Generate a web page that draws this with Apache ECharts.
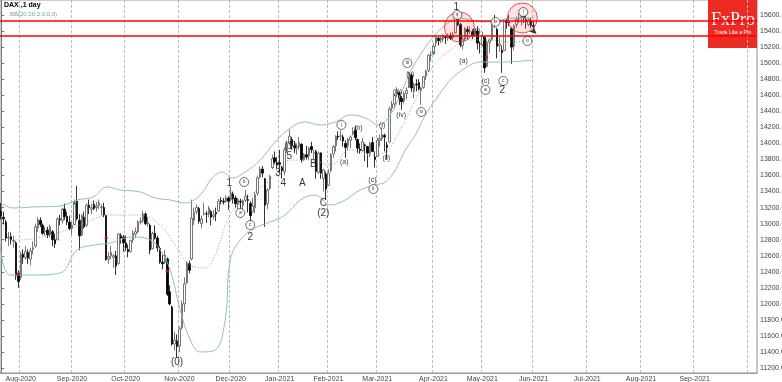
<!DOCTYPE html>
<html><head><meta charset="utf-8">
<script src="https://cdn.jsdelivr.net/npm/echarts@6/dist/echarts.min.js"></script>
<style>html,body{margin:0;padding:0;background:#fff}#c{width:782px;height:382px}</style>
</head><body><div id="c"></div>
<script>
// ---- categories: trading days ----
const startDate = '2020-07-22';
const categoryCount = 310;
const holidays = ['2020-12-24','2020-12-25','2020-12-31','2021-01-01','2021-04-02','2021-04-05'];
const monthNames = ['Jan','Feb','Mar','Apr','May','Jun','Jul','Aug','Sep','Oct','Nov','Dec'];
const hiddenMonthLabels = ['Oct-2021'];

// ---- OHLC (index 0 = 2020-07-22) ----
const opens = [13150,13080,13020,12820,12840,12780,12760,12380,
12330,12620,12580,12640,12560,12680,12720,12950,13040,12980,12900,12920,12860,12900,12800,12800,13060,13040,13180,13090,13020,
12940,12990,13280,13040,12860,13080,12980,13230,13180,13240,13200,13230,13200,13200,13100,12560,12600,12580,12600,12500,12850,12830,
12760,12680,12650,12800,12870,12900,13020,13040,13120,13000,12980,12690,12880,12820,12690,12520,12520,12560,12150,11960,11500,11540,
11480,11700,12000,12260,12500,12560,13040,13150,13190,13000,13120,13120,13120,13150,13090,13140,13160,13290,13280,13280,13320,
13300,13370,13320,13240,13280,13230,13290,13300,13250,13150,13200,13380,13580,13680,13560,13250,13440,13700,13820,13760,
13760,13700,13650,13920,14000,14050,13970,13950,13960,13990,13800,13860,13850,13960,13880,13900,13640,13880,13560,13620,
13480,13660,13870,13970,14090,14090,14080,14000,13970,14040,14120,14160,14050,13930,13910,13980,13960,13880,14010,13830,
13840,14040,14060,14100,13980,14020,14440,14490,14610,14630,14560,14530,14620,14700,14850,14650,14740,14760,14660,14700,14840,14910,15100,
15120,15250,15310,15290,15300,15330,15310,15340,15320,15380,15580,15480,15220,15300,15420,15400,15390,15350,15400,15240,
15230,15320,14960,15260,15300,15520,15420,15220,15160,15160,15520,15510,15430,15210,15480,15550,15570,15580,15540,15480,15530,
15470];
const highs = [13260,13150,13050,12900,12890,12850,12780,12420,
12650,12680,12720,12680,12700,12780,13000,13080,13080,13000,12960,12960,12990,12920,12880,13080,13110,13200,13250,13150,13100,
13020,13300,13470,13120,13120,13150,13250,13300,13250,13290,13270,13300,13240,13260,13110,12650,12720,12620,12660,12880,12880,12860,
12850,12740,12800,12920,12950,13040,13080,13160,13140,13080,13000,12900,12980,12850,12720,12610,12670,12580,12230,11980,11650,11620,
11720,12040,12330,12530,12540,13300,13200,13240,13210,13100,13260,13160,13220,13170,13170,13200,13310,13330,13320,13350,13340,
13460,13400,13350,13320,13310,13300,13420,13360,13280,13320,13390,13600,13710,13720,13570,13440,13610,13860,13900,13830,
13920,13720,13950,14030,14170,14080,14030,14000,14080,14000,13880,13970,13960,14020,13920,13920,13900,13890,13680,13650,
13680,13880,13980,14100,14150,14160,14110,14040,14070,14100,14200,14210,14060,14000,14070,14000,13970,14020,14080,13900,
14070,14110,14200,14120,14020,14460,14530,14620,14700,14650,14590,14650,14700,14890,14870,14760,14800,14800,14700,14840,14920,15110,15150,
15250,15340,15330,15340,15360,15350,15370,15380,15390,15590,15625,15500,15320,15450,15460,15460,15420,15420,15460,15270,
15390,15340,15280,15310,15520,15600,15440,15330,15220,15540,15560,15600,15450,15480,15580,15620,15630,15620,15600,15560,15560,
15520];
const lows = [13050,12990,12780,12720,12740,12700,12300,12200,
12300,12500,12550,12500,12480,12620,12700,12900,12960,12860,12850,12820,12830,12720,12700,12790,12980,13000,13050,12980,12920,
12860,12980,13040,12670,12840,12940,12960,13120,13120,13170,13150,13180,13100,13080,12540,12500,12560,12450,12360,12490,12750,12650,
12660,12580,12640,12760,12820,12880,12990,13010,12980,12960,12620,12680,12800,12650,12500,12430,12500,12100,11980,11480,11420,11330,
11400,11680,11900,12250,12380,12540,12980,13120,13000,12940,13100,13010,13080,12980,13050,13030,13150,13240,13240,13260,13170,
13280,13250,13200,13180,13180,13140,13270,13140,13020,13140,13130,13350,13560,13580,12960,13180,13420,13680,13740,13690,
13640,13560,13600,13880,13980,13920,13880,13860,13920,13760,13780,13800,13800,13880,13800,13560,13620,13560,13400,13300,
13470,13640,13820,13900,14040,14030,13960,13820,13920,13940,14100,14040,13880,13870,13900,13780,13700,13830,13890,13700,
13830,13960,14030,13900,13800,14010,14400,14430,14580,14480,14420,14500,14550,14690,14640,14560,14650,14660,14480,14680,14790,14890,15020,
15100,15200,15220,15250,15260,15240,15280,15290,15290,15370,15460,15200,15170,15280,15300,15360,15300,15330,15170,15120,
15210,14880,14950,15120,15280,15440,15060,15140,14880,15150,15430,15460,14990,15160,15440,15500,15470,15500,15430,15460,15440,
15440];
const closes = [13100,13060,12820,12830,12800,12790,12350,12280,
12620,12580,12650,12570,12660,12700,12960,13050,12990,12880,12910,12860,12960,12800,12750,13060,13050,13180,13090,13020,12940,
12980,13260,13060,12850,13100,12960,13230,13200,13200,13190,13220,13260,13210,13110,12550,12590,12640,12600,12470,12870,12820,12760,
12700,12650,12790,12880,12900,13020,13030,13120,13000,13010,12670,12880,12820,12700,12520,12500,12610,12120,12000,11500,11550,11470,
11690,12000,12250,12510,12420,13070,13140,13200,13030,13060,13130,13120,13190,13080,13110,13120,13280,13280,13270,13320,13280,
13380,13310,13250,13300,13270,13280,13340,13290,13100,13220,13360,13570,13680,13630,13230,13420,13590,13810,13770,13730,
13740,13660,13920,14000,14090,13970,13950,13960,14010,13800,13860,13830,13940,13920,13890,13650,13880,13630,13670,13430,
13630,13860,13960,14090,14080,14090,14030,13950,14050,14080,14150,14070,13940,13910,14020,13970,13880,14000,13900,13800,
14040,14060,14110,14080,13950,14430,14490,14600,14630,14560,14520,14620,14660,14850,14690,14730,14730,14680,14690,14830,14900,15100,15100,
15210,15320,15280,15310,15340,15320,15340,15310,15360,15580,15480,15230,15300,15430,15390,15400,15350,15400,15250,15240,
15330,14940,15260,15290,15510,15510,15210,15240,15130,15530,15510,15500,15200,15470,15550,15560,15580,15560,15520,15540,15470,
15460];

// ---- Bollinger band lines: [index, value] ----
const bbUpper = [[-0.5,13270],[4.8,13195],[13,13208],[24.1,13220],[31.1,13295],[37.6,13332],[43.4,13457],[48.7,13420],[56.9,13395],[63,13320],[69.2,13295],[75.3,13258],[81.5,13357],[86.4,13569],[90.5,13644],[94.6,13569],[99.9,13644],[106.1,13793],[112.2,14018],[118.4,14192],[124.5,14267],[130.6,14230],[136.8,14267],[142.9,14354],[149.1,14317],[154.4,14230],[159.3,14354],[163.4,14603],[167.5,14890],[171.6,15102],[176.5,15313],[181.9,15475],[187.2,15563],[192.1,15538],[198.3,15513],[204.4,15538],[210.6,15563],[218,15563]];
const bbMiddle = [[-0.5,12983],[7.7,12797],[20,12859],[32.3,12983],[44.6,13108],[56.9,13108],[65.1,12983],[71.2,12734],[77.4,12485],[83.5,12448],[87.6,12610],[93.8,13108],[102,13357],[110.2,13544],[118.4,13793],[126.5,13793],[134.7,13731],[142.9,13918],[151.1,13856],[157.3,13893],[163.4,14167],[169.6,14541],[175.7,14915],[184,15164],[192.1,15289],[200.3,15289],[208.5,15264],[218,15289]];
const bbLower = [[-0.5,12734],[3.6,12360],[11.8,12360],[24.1,12385],[31.1,12672],[38.4,12734],[44.6,12759],[54,12834],[61,12797],[65.1,12672],[69.2,12423],[73.3,11924],[77.4,11551],[81.5,11401],[87.6,11426],[91.7,11800],[93.8,12547],[97.9,12797],[104,12946],[110.2,13021],[116.3,13108],[122.5,13295],[128.6,13357],[134.7,13233],[140.9,13295],[147,13420],[153.2,13482],[157.3,13519],[161.4,13669],[165.5,13918],[169.6,14105],[173.7,14354],[177.8,14541],[184,14790],[190.1,14940],[196.2,15014],[204.4,15014],[218,15039]];

// ---- levels and annotations ----
const resistanceLevels = [15531, 15347];
const lastPrice = 15460.18;
const yTicks = [11200,11400,11600,11800,12000,12200,12400,12600,12800,13000,13200,13400,13600,13800,14000,14200,14400,14600,14800,15000,15200,15400,15600];
const plainLabels = [[72,11276,'(0)'],[93.4,13507,'1'],[102,12834,'2'],[113.4,13631,'3'],[115.5,13507,'4'],[118,13843,'5'],[118.4,13968,'(1)'],
  [123.3,13507,'A'],[127.8,13743,'B'],[131.9,13258,'C'],[131.9,13133,'(2)'],[186.4,15700,'1'],[205.2,14666,'2']];
const smallLabels = [[140.5,13768,'(a)'],[146.2,14192,'(b)'],[152,13544,'(c)'],[156,14230,'(i)'],[157.7,13818,'(ii)'],[162.2,14641,'(iii)'],
  [163.8,14354,'(iv)'],[167.5,14865,'(v)'],[189.3,15027,'(a)'],[194.6,15401,'(b)'],[198.3,14778,'(c)']];
const circledLabels = [[99.5,13519,'b'],[97.9,13133,'a'],[102,12983,'c'],[139.3,14230,'i'],[152.4,13432,'ii'],[166.3,15002,'iii'],[172,14391,'iv'],
  [186.8,15600,'v'],[202.4,15513,'b'],[198.3,14666,'a'],[205.6,14778,'c'],[213.8,15637,'i'],[215.5,15276,'ii']];
const highlightCircles = [[187.6,15450],[213.4,15563]];
const greenMarks = [[30,13258],[177,15127]];
const redMarks = [[7,12373],[43,12822],[68,12410],[198.7,15077]];
const arrowMark = [[219.2,15363]];

// ---- build ----
function buildCategories(){
  const out=[]; const d=new Date(startDate+'T00:00:00Z');
  while(out.length<categoryCount){
    const wd=d.getUTCDay(); const s=d.toISOString().slice(0,10);
    if(wd!==0&&wd!==6&&holidays.indexOf(s)<0) out.push(s);
    d.setUTCDate(d.getUTCDate()+1);
  }
  return out;
}
const categories = buildCategories();
const monthStart = {};
for(let i=1;i<categories.length;i++){
  if(categories[i].slice(0,7)!==categories[i-1].slice(0,7)) monthStart[i]=true;
}
function monthLabel(s){ return monthNames[parseInt(s.slice(5,7),10)-1]+'-'+s.slice(0,4); }
const candleData = opens.map((o,i)=>[o,closes[i],lows[i],highs[i]]);

const yMin = 11139, yMax = 15787;
const chart = echarts.init(document.getElementById('c'));
const FONT = 'Liberation Sans';
chart.setOption({
  animation:false,
  backgroundColor:'#ffffff',
  textStyle:{fontFamily:FONT},
  graphic:[
    {type:'text',left:4,top:2,style:{text:'DAX ,1 day',font:'bold 7px "Liberation Sans"',fill:'#000'}},
    {type:'text',left:10,top:11,style:{text:'BB(20,20,2.0,0,0)',font:'6px "Liberation Sans"',fill:'#6fa8a8'}},
    {type:'rect',shape:{x:708,y:0,width:49,height:48},style:{fill:'#ee2a24'}},
    {type:'text',x:733,y:20,style:{text:'FxPro',font:'18px "Liberation Serif"',fill:'#fff',align:'center',verticalAlign:'middle'}},
    {type:'text',x:733,y:33,style:{text:'Trade Like a Pro',font:'5px "Liberation Sans"',fill:'#fff',align:'center',verticalAlign:'middle'}}
  ],
  grid:{left:0,right:25,top:0,bottom:9,show:true,borderColor:'#999',borderWidth:1,backgroundColor:'transparent',outerBoundsMode:'none',containLabel:false},
  xAxis:[{
    type:'category',data:categories,boundaryGap:true,
    axisLine:{lineStyle:{color:'#999'}},axisTick:{show:false},
    axisLabel:{fontSize:7,color:'#444',margin:3,
      interval:(i)=>!!monthStart[i]&&hiddenMonthLabels.indexOf(monthLabel(categories[i]))<0,
      formatter:(v)=>monthLabel(v)},
    splitLine:{show:true,interval:(i)=>!!monthStart[i],lineStyle:{color:'#bbb',type:[3,2],width:1}}
  },{
    type:'value',min:-0.5,max:categoryCount-0.5,show:false
  }],
  yAxis:{
    type:'value',position:'right',min:yMin,max:yMax,scale:true,
    axisLine:{show:true,lineStyle:{color:'#777'}},
    axisTick:{show:true,length:3,customValues:yTicks,lineStyle:{color:'#777'}},
    axisLabel:{fontSize:7,color:'#444',margin:3,customValues:yTicks,formatter:(v)=>v.toFixed(2)},
    splitLine:{show:false}
  },
  series:[
    {type:'line',xAxisIndex:1,data:bbUpper,smooth:0.4,showSymbol:false,lineStyle:{color:'#8cc2c0',width:1},silent:true},
    {type:'line',xAxisIndex:1,data:bbLower,smooth:0.4,showSymbol:false,lineStyle:{color:'#8cc2c0',width:1},silent:true},
    {type:'line',xAxisIndex:1,data:bbMiddle,smooth:0.4,showSymbol:false,lineStyle:{color:'#999',width:1,type:[1,2]},silent:true},
    {type:'candlestick',data:candleData,barWidth:2,
      itemStyle:{color:'#ffffff',color0:'#000000',borderColor:'#555',borderColor0:'#000',borderWidth:0.8},
      markLine:{symbol:'none',silent:true,animation:false,
        data:[
          ...resistanceLevels.map(v=>({yAxis:v,lineStyle:{color:'#ff0000',width:1.6,type:'solid'},label:{show:false}})),
          {yAxis:lastPrice,lineStyle:{opacity:0},label:{show:true,position:'end',distance:3,formatter:lastPrice.toFixed(2),fontSize:7,color:'#000',backgroundColor:'#fff',borderColor:'#000',borderWidth:1,padding:[0,1]}}
        ]}
    },
    {type:'scatter',xAxisIndex:1,data:highlightCircles,symbolSize:30,itemStyle:{color:'rgba(255,60,60,0.18)',borderColor:'#ee2222',borderWidth:1},silent:true,z:3},
    {type:'scatter',xAxisIndex:1,data:greenMarks,symbol:'diamond',symbolSize:4,itemStyle:{color:'#19a019'},z:4},
    {type:'scatter',xAxisIndex:1,data:redMarks,symbol:'diamond',symbolSize:4,itemStyle:{color:'#d01010'},z:4},
    {type:'scatter',xAxisIndex:1,data:arrowMark,symbol:'arrow',symbolSize:[5,7],symbolRotate:-135,itemStyle:{color:'#000'},z:4},
    {type:'scatter',xAxisIndex:1,data:plainLabels,symbolSize:0,z:5,
      label:{show:true,position:'inside',formatter:(p)=>p.data[2],fontSize:10,color:'#000'}},
    {type:'scatter',xAxisIndex:1,data:smallLabels,symbolSize:0,z:5,
      label:{show:true,position:'inside',formatter:(p)=>p.data[2],fontSize:7,color:'#000'}},
    {type:'scatter',xAxisIndex:1,data:circledLabels,symbol:'circle',symbolSize:9,z:5,
      itemStyle:{color:'#fff',borderColor:'#000',borderWidth:0.7},
      label:{show:true,position:'inside',formatter:(p)=>p.data[2],fontSize:5,color:'#000'}}
  ]
});
</script></body></html>
